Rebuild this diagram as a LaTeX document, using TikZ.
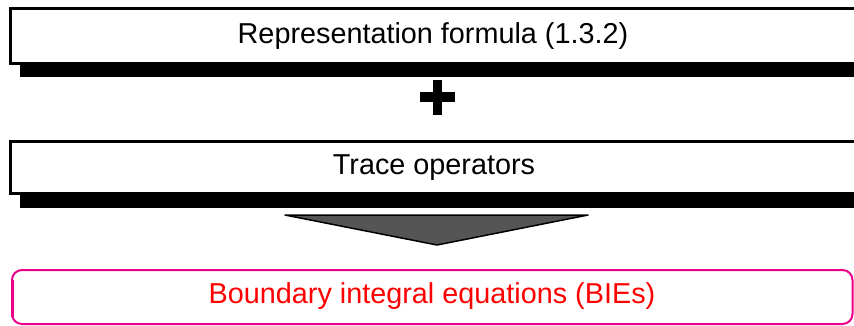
\documentclass[tikz,border=0pt]{standalone}
\usepackage{fontspec}
\setmainfont{Liberation Sans}
\definecolor{bmag}{RGB}{238,0,140}
\definecolor{bred}{RGB}{255,0,0}
\definecolor{tgray}{RGB}{85,85,85}
\begin{document}
\begin{tikzpicture}[x=1pt,y=-1pt,
  txt/.style={font=\fontsize{28.8}{32}\selectfont, anchor=base, inner sep=0pt},
  framebox/.style={draw=black, line width=3pt, fill=white},
  shadowbar/.style={fill=black},
]
\useasboundingbox (0,0) rectangle (854,325);
\clip (0,0) rectangle (854,325);
% box 1
\fill[shadowbar] (20,64) rectangle (880,77);
\draw[framebox] (10.5,8.5) rectangle (880,63.5);
\node[txt] (rep) at (433,43.5) {Representation formula (1.3.2)};
% plus
\fill[black] (420,92) rectangle (455,102);
\fill[black] (433,80) rectangle (442,115);
\coordinate (plus) at (437,97);
% box 2
\fill[shadowbar] (20,194) rectangle (880,208);
\draw[framebox] (10.5,141.5) rectangle (880,193.5);
\node[txt] (trace) at (434,174.5) {Trace operators};
% triangle arrow
\draw[fill=tgray, draw=black, line width=1.5pt, line join=round, line cap=round]
  (285,215) -- (588,215) -- (437,245) -- cycle;
\coordinate (tri) at (437,245);
% bottom box
\draw[bmag, line width=2pt, rounded corners=10pt] (12,270) rectangle (852.5,324);
\draw[bmag, line width=3pt] (12,280) -- (12,317);
\node[txt, text=bred] (bie) at (432,303.5) {Boundary integral equations (BIEs)};
\end{tikzpicture}
\end{document}
